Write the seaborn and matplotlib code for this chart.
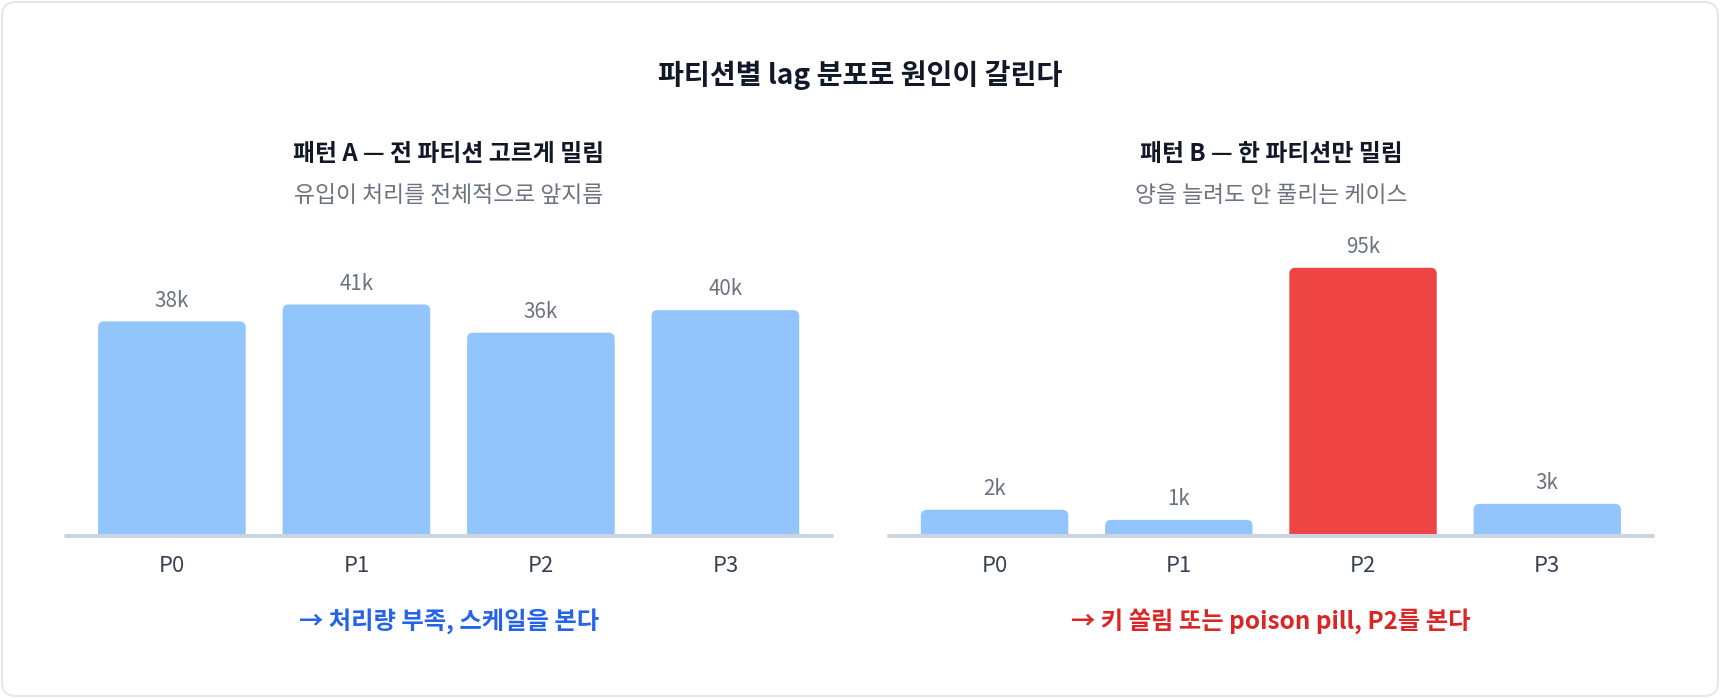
import matplotlib
matplotlib.use("Agg")
import matplotlib.pyplot as plt
from matplotlib.patches import FancyBboxPatch
import seaborn as sns
import pandas as pd

# ---------------- data ----------------
partitions = ["P0", "P1", "P2", "P3"]
# pattern A: lag per partition (k messages)
lag_a = [38, 41, 36, 40]
label_a = ["38k", "41k", "36k", "40k"]
# pattern B: bar heights as drawn (k) and their printed labels
lag_b = [9.2, 5.6, 95, 11.3]
label_b = ["2k", "1k", "95k", "3k"]
hot_b = [False, False, True, False]

title = "파티션별 lag 분포로 원인이 갈린다"
title_a = "패턴 A — 전 파티션 고르게 밀림"
sub_a = "유입이 처리를 전체적으로 앞지름"
title_b = "패턴 B — 한 파티션만 밀림"
sub_b = "양을 늘려도 안 풀리는 케이스"
note_a = "→ 처리량 부족, 스케일을 본다"
note_b = "→ 키 쏠림 또는 poison pill, P2를 본다"

ymax_a = 50
ymax_b = 100

BLUE = "#93c5fd"
RED = "#ef4444"
AXIS = "#cbd5e1"
DARK = "#111827"
GRAY = "#6b7280"
TICK = "#374151"

sns.set_theme(style="white")
plt.rcParams["font.family"] = ["Noto Sans CJK KR", "DejaVu Sans"]

W, H = 1720, 698
fig = plt.figure(figsize=(W / 100, H / 100), dpi=100)
fig.patch.set_facecolor("white")

# card background
card = FancyBboxPatch((2 / W, 2 / H), (W - 4) / W, (H - 4) / H,
                      boxstyle="round,pad=0,rounding_size=0.008",
                      transform=fig.transFigure, facecolor="white",
                      edgecolor="#e5e7eb", linewidth=1.5, zorder=-10,
                      mutation_aspect=W / H)
fig.patches.append(card)

ax_bottom = (H - 535.7) / H
ax_height = 282 / H
axA = fig.add_axes([65.8 / W, ax_bottom, 765.7 / W, ax_height])
axB = fig.add_axes([888.6 / W, ax_bottom, 764.6 / W, ax_height])

fig.text(0.5, 1 - 75 / H, title, ha="center", va="center",
         fontsize=20.3, fontweight="bold", color=DARK)


def panel(ax, values, labels, colors, ymax, ttl, sub, note, note_color):
    df = pd.DataFrame({"partition": partitions, "lag": values})
    sns.barplot(data=df, x="partition", y="lag", hue="partition",
                palette=colors, legend=False, width=0.8, ax=ax,
                saturation=1)
    ax.set_xlim(-0.575, 3.575)
    ax.set_ylim(0, ymax)
    fig.canvas.draw()
    bb = ax.get_window_extent()
    px_x = bb.width / (3.575 + 0.575)
    px_y = bb.height / ymax
    rpx = 6
    rx = rpx / px_x
    ry = rpx / px_y
    for p, lab in zip(list(ax.patches), labels):
        x0, w, h = p.get_x(), p.get_width(), p.get_height()
        fc = p.get_facecolor()
        p.set_visible(False)
        rb = FancyBboxPatch((x0, -ry), w, h + ry,
                            boxstyle=f"round,pad=0,rounding_size={rx}",
                            mutation_aspect=ry / rx, facecolor=fc,
                            edgecolor="none", zorder=2)
        ax.add_patch(rb)
        ax.annotate(lab, (x0 + w / 2, h), xytext=(0, 7),
                    textcoords="offset points", ha="center", va="bottom",
                    fontsize=14.8, color=GRAY)
    ax.axhline(0, color=AXIS, linewidth=2.9, zorder=3, clip_on=False)
    sns.despine(ax=ax, left=True, bottom=True)
    ax.set_yticks([])
    ax.set_xlabel("")
    ax.set_ylabel("")
    ax.tick_params(axis="x", length=0, pad=14, labelsize=15.8,
                   labelcolor=TICK)
    ax.set_facecolor("none")
    cx = (bb.x0 + bb.x1) / 2 / W
    fig.text(cx, 1 - 153.6 / H, ttl, ha="center", va="center",
             fontsize=17.2, fontweight="bold", color=DARK)
    fig.text(cx, 1 - 195 / H, sub, ha="center", va="center",
             fontsize=16.4, color=GRAY)
    fig.text(cx, 1 - 621 / H, note, ha="center", va="center",
             fontsize=17.5, fontweight="bold", color=note_color)


panel(axA, lag_a, label_a, [BLUE] * 4, ymax_a, title_a, sub_a, note_a,
      "#2563eb")
panel(axB, lag_b, label_b, [RED if h else BLUE for h in hot_b], ymax_b,
      title_b, sub_b, note_b, "#dc2626")

fig.savefig("out.png", dpi=100, facecolor="white")
